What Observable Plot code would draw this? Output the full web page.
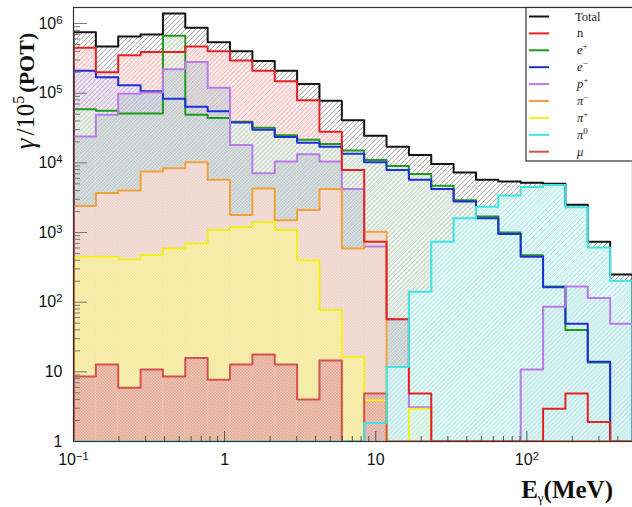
<!DOCTYPE html>
<html><head><meta charset="utf-8">
<script src="https://cdn.jsdelivr.net/npm/d3@7"></script>
<script src="https://cdn.jsdelivr.net/npm/@observablehq/plot@0.6"></script>
<style>
body{margin:0;background:#fff}
#chart{position:relative;width:632px;height:507px;overflow:hidden}
</style>
</head><body><div id="chart"></div>
<script>
// ---- histogram definition: 25 log-spaced bins from 0.1 to 500 MeV ----
const nBins = 25, xMin = 0.1, xMax = 500;
const yMin = 1, yMax = 1.7e6;

// ---- series (counts per bin, gamma / 1e5 POT) ----
const total   = [7.5e5,4.7e5,6.5e5,6.95e5,1.39e6,8.7e5,5.4e5,4.0e5,2.9e5,2.1e5,1.36e5,7.8e4,4.1e4,2.45e4,1.7e4,1.3e4,9.6e3,7.3e3,5.7e3,5.4e3,5.2e3,5.0e3,2.5e3,740,250];
const neutron = [4.5e5,2.0e5,3.5e5,3.9e5,3.9e5,4.7e5,4.0e5,2.96e5,2.1e5,1.48e5,7.9e4,2.8e4,7.9e3,740,57,4.9,0,0,0,0,0,2.95,4.9,1.9,0];
const ePlus   = [5.9e4,5.6e4,5.1e4,5.1e4,6.7e5,4.9e4,4.4e4,3.9e4,3.2e4,2.5e4,2.15e4,1.87e4,1.5e4,1.1e4,9.0e3,6.9e3,4.7e3,2.9e3,1.7e3,1.0e3,470,168,40,13.6,0];
const eMinus  = [2.1e5,1.7e5,1.3e5,1.07e5,8.3e4,6.4e4,5.5e4,3.8e4,3.0e4,2.35e4,1.95e4,1.7e4,1.35e4,1.02e4,7.9e3,5.7e3,4.2e3,2.8e3,1.6e3,950,450,164,49,14,0];
const pPlus   = [2.4e4,4.9e4,9.8e4,1.02e5,2.2e5,2.8e5,1.2e5,1.8e4,7.1e3,1.05e4,1.33e4,1.05e4,4.2e3,630,57,3.1,0,0,0,0,10.8,86,168,115,49];
const piMinus = [2.4e3,3.7e3,4.0e3,7.5e3,8.4e3,1.02e4,5.7e3,1.78e3,4.3e3,1.5e3,2.1e3,4.2e3,590,1030,0,0,0,0,0,0,0,0,0,0,0];
const piPlus  = [450,450,410,475,590,695,1090,1200,1400,1090,400,77,16.3,3.9,0,2.95,0,0,0,0,0,0,0,0,0];
const pi0     = [0,0,0,0,0,0,0,0,0,0,0,0,0,1.85,11.7,141,740,1600,2350,3400,4500,4800,2300,610,203];
const mu      = [8.6,12.7,5.9,10.8,8.6,15.8,7.7,12.7,17.7,12.7,4.0,14.6,0,4.9,0,0,0,0,0,0,0,0,0,0,0];

// ---- legend / style table ----
const legendNames = ["Total","n","e+","e-","p+","π-","π+","π0","μ"];
const seriesList = [
  {key:"Total", values: total,   color:"#111111", pat:"p-tot"},
  {key:"n",     values: neutron, color:"#e52222", pat:"p-n"},
  {key:"e-",    values: eMinus,  color:"#1d2fd6", pat:"p-em"},
  {key:"e+",    values: ePlus,   color:"#1f9a1f", pat:"p-ep"},
  {key:"p+",    values: pPlus,   color:"#b87be6", pat:"p-pp"},
  {key:"π-",    values: piMinus, color:"#f2a23a", pat:"p-pim"},
  {key:"π+",    values: piPlus,  color:"#f4f01e", pat:"p-pip"},
  {key:"π0",    values: pi0,     color:"#3fe3e3", pat:"p-pi0"},
  {key:"μ",     values: mu,      color:"#d4524e", pat:"p-mu"}
];
const colorOf = Object.fromEntries(seriesList.map(s => [s.key, s.color]));

const edges = d3.range(nBins + 1).map(i => xMin * Math.pow(xMax / xMin, i / nBins));

function rectRows(vals) {
  return vals.map((v, i) => ({x1: edges[i], x2: edges[i + 1], y: v})).filter(d => d.y > 0);
}
function stepPoints(vals) {
  const pts = [{x: edges[0], y: yMin}];
  vals.forEach((v, i) => pts.push({x: edges[i], y: Math.max(v, yMin)}));
  pts.push({x: edges[nBins], y: Math.max(vals[nBins - 1], yMin)});
  pts.push({x: edges[nBins], y: yMin});
  return pts;
}

const majorX = [0.1, 1, 10, 100];
const minorX = [];
for (let k = -1; k <= 2; k++) for (let m = 2; m <= 9; m++) { const v = m * Math.pow(10, k); if (v < xMax) minorX.push(v); }
const majorY = [1, 10, 1e2, 1e3, 1e4, 1e5, 1e6];
const minorY = [];
for (let k = 0; k <= 6; k++) for (let m = 2; m <= 9; m++) { const v = m * Math.pow(10, k); if (v < yMax) minorY.push(v); }

const fmtPow = v => {
  const e = Math.round(Math.log10(v));
  if (e === 0) return "1";
  if (e === 1) return "10";
  return "10^" + (e < 0 ? "\u2212" + (-e) : e);
};

const font = "Liberation Sans, Arial, Helvetica, sans-serif";
const fillMarks = seriesList.map(s => Plot.rectY(rectRows(s.values), {x1: "x1", x2: "x2", y1: yMin, y2: "y", fill: `url(#${s.pat})`, clip: true}));
const lineOrder = ["Total","e+","e-","p+","π-","π+","n","μ","π0"];
const lineMarks = lineOrder.map(k => {
  const s = seriesList.find(d => d.key === k);
  return Plot.line(stepPoints(s.values), {x: "x", y: "y", curve: "step-after", stroke: s.color, strokeWidth: 2, clip: true});
});

const svg = Plot.plot({
  width: 632, height: 507,
  marginLeft: 73, marginRight: 0, marginTop: 7, marginBottom: 66,
  style: {fontFamily: font, background: "#fff"},
  x: {type: "log", domain: [xMin, xMax], label: null},
  y: {type: "log", domain: [yMin, yMax], label: null},
  marks: [
    ...fillMarks,
    ...lineMarks,
    Plot.axisX({ticks: minorX, tickSize: -5, tickFormat: () => "", stroke: "#555", label: null}),
    Plot.axisX({ticks: majorX, tickSize: -10, tickFormat: () => "", stroke: "#555", label: null}),
    Plot.axisX({ticks: majorX, tickSize: 0, tickPadding: 12, tickFormat: fmtPow, fontSize: 16, fill: "#111", label: null}),
    Plot.axisY({ticks: minorY, tickSize: -7, tickFormat: () => "", stroke: "#777", label: null}),
    Plot.axisY({ticks: majorY, tickSize: -14, tickFormat: () => "", stroke: "#777", label: null}),
    Plot.axisY({ticks: majorY, tickSize: 0, tickPadding: 11, tickFormat: fmtPow, fontSize: 16, fill: "#111", label: null}),
    Plot.frame({stroke: "#333", strokeWidth: 1.2})
  ]
});

// ---- patterns (ROOT-like hatch / dot fills) ----
const defs = d3.select(svg).insert("defs", ":first-child");
function hatch(id, bg, bgOp, fg, fgOp, size, sw) {
  const p = defs.append("pattern").attr("id", id).attr("patternUnits", "userSpaceOnUse").attr("width", size).attr("height", size);
  if (bg) p.append("rect").attr("width", size).attr("height", size).attr("fill", bg).attr("fill-opacity", bgOp);
  p.append("path").attr("d", `M0,${size} L${size},0 M${-size/2},${size/2} L${size/2},${-size/2} M${size/2},${size*1.5} L${size*1.5},${size/2}`)
    .attr("stroke", fg).attr("stroke-opacity", fgOp).attr("stroke-width", sw).attr("fill", "none");
}
function dots(id, bg, bgOp, fg, fgOp, size) {
  const p = defs.append("pattern").attr("id", id).attr("patternUnits", "userSpaceOnUse").attr("width", size).attr("height", size);
  p.append("rect").attr("width", size).attr("height", size).attr("fill", bg).attr("fill-opacity", bgOp);
  p.append("rect").attr("width", size/2).attr("height", size/2).attr("fill", fg).attr("fill-opacity", fgOp);
  p.append("rect").attr("x", size/2).attr("y", size/2).attr("width", size/2).attr("height", size/2).attr("fill", fg).attr("fill-opacity", fgOp);
}
hatch("p-tot", null, 0, "#333", 0.6, 5, 0.7);
hatch("p-n",  "#fde4e4", 0.85, "#e66060", 0.45, 4.5, 0.7);
hatch("p-em", "#dfe1f7", 0.5, "#5a62cc", 0.4, 4.5, 0.7);
hatch("p-ep", "#e9f3e5", 0.7, "#7cbc7c", 0.4, 4.5, 0.7);
dots("p-pp",  "#d2dadf", 0.5, "#91a0ad", 0.3, 3);
dots("p-pim", "#f8e3db", 0.88, "#eab4a2", 0.35, 3);
dots("p-pip", "#f9f3b6", 0.9, "#eadb6a", 0.4, 3);
hatch("p-pi0","#dcf8f8", 0.75, "#79dddd", 0.55, 4.5, 0.7);
dots("p-mu",  "#ecb7b4", 0.7, "#cf7471", 0.35, 3);

// ---- superscripts on tick labels ----
d3.select(svg).selectAll("text").each(function() {
  const t = this.textContent;
  if (t.includes("^")) {
    const [base, ex] = t.split("^");
    this.textContent = "";
    d3.select(this).append("tspan").text(base);
    d3.select(this).append("tspan").attr("dy", "-0.45em").attr("font-size", "0.7em").text(ex);
  }
});

const root = d3.select(svg);

// ---- axis titles ----
const xt = root.append("text").attr("x", 613).attr("y", 498).attr("text-anchor", "end")
  .attr("font-family", "Liberation Serif, Times New Roman, serif").attr("font-weight", "bold").attr("font-size", 25).attr("fill", "#111");
xt.append("tspan").text("E");
xt.append("tspan").attr("font-size", 13).attr("dy", 4).attr("font-weight", "normal").text("γ");
xt.append("tspan").attr("dy", -4).text("(MeV)");

const yt = root.append("text").attr("transform", "translate(34,91) rotate(-90)").attr("text-anchor", "middle")
  .attr("font-family", "Liberation Serif, Times New Roman, serif").attr("font-size", 25).attr("fill", "#111");
yt.append("tspan").attr("font-style", "italic").attr("font-size", 27).text("γ");
yt.append("tspan").attr("dx", 3).text("/10");
yt.append("tspan").attr("dy", -10).attr("font-size", 16).text("5");
yt.append("tspan").attr("dy", 10).attr("dx", 3).attr("font-weight", "bold").attr("font-size", 22).text("(POT)");

// ---- legend ----
const lg = root.append("g");
lg.append("rect").attr("x", 526).attr("y", 7.5).attr("width", 130).attr("height", 153.5).attr("fill", "#fff").attr("stroke", "#333").attr("stroke-width", 1.2);
const legendLabel = {
  "Total": [["Total", null]], "n": [["n", null]],
  "e+": [["e", "i"], ["+", "s"]], "e-": [["e", "i"], ["\u2212", "s"]],
  "p+": [["p", "i"], ["+", "s"]], "π-": [["π", "i"], ["\u2212", "s"]],
  "π+": [["π", "i"], ["+", "s"]], "π0": [["π", "i"], ["0", "s"]], "μ": [["μ", "i"]]
};
legendNames.forEach((name, i) => {
  const y = 16.5 + i * 16.9;
  lg.append("line").attr("x1", 529).attr("x2", 549).attr("y1", y).attr("y2", y).attr("stroke", colorOf[name]).attr("stroke-width", 2);
  const t = lg.append("text").attr("x", name === "Total" ? 575 : 577).attr("y", y + 4).attr("text-anchor", "start")
    .attr("font-family", "Liberation Serif, Times New Roman, serif").attr("font-size", 12.5).attr("fill", "#222");
  legendLabel[name].forEach(([s, kind]) => {
    const sp = t.append("tspan").text(s);
    if (kind === "i") sp.attr("font-style", "italic");
    if (kind === "s") sp.attr("dy", -5).attr("font-size", 9);
  });
});

document.getElementById("chart").appendChild(svg);
</script>
</body></html>
